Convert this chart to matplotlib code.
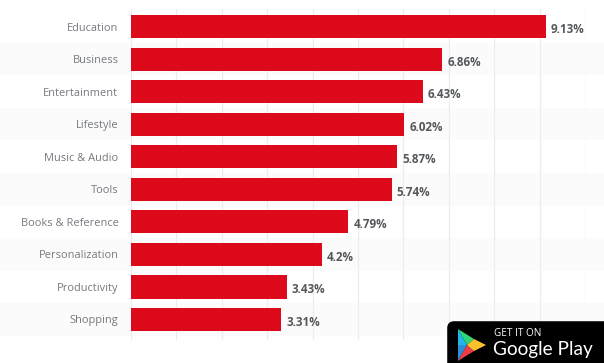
import matplotlib
matplotlib.use("Agg")
import matplotlib.pyplot as plt
from matplotlib.patches import FancyBboxPatch, Polygon
from matplotlib.transforms import offset_copy

categories = ["Education", "Business", "Entertainment", "Lifestyle", "Music & Audio",
              "Tools", "Books & Reference", "Personalization", "Productivity", "Shopping"]
shares = [9.13, 6.86, 6.43, 6.02, 5.87, 5.74, 4.79, 4.2, 3.43, 3.31]
share_labels = ["9.13%", "6.86%", "6.43%", "6.02%", "5.87%", "5.74%", "4.79%", "4.2%", "3.43%", "3.31%"]
x_gridlines = list(range(0, 11))

W, H = 604, 363
plt.rcParams["font.family"] = ["Open Sans", "DejaVu Sans"]
fig = plt.figure(figsize=(W / 100, H / 100), dpi=100, facecolor="white")

# Plot area in pixel terms: x 131..585, y 9..340
ax = fig.add_axes([131 / W, 1 - 340 / H, 454 / W, 331 / H])
ax.set_xlim(0, 10)
ax.set_ylim(9.63, -0.54)
ax.set_facecolor("none")
for s in ax.spines.values():
    s.set_visible(False)

# Alternating row bands run across the full figure width
for i in range(1, len(categories), 2):
    ax.axhspan(i - 0.5, i + 0.5, xmin=-131 / 454, xmax=473 / 454,
               color="#fbfbfb", lw=0, zorder=0, clip_on=False)

for g in x_gridlines:
    ax.axvline(g, color="#ececec", lw=0.9, zorder=1)

ax.barh(range(len(categories)), shares, height=0.71, color="#dc0a1b", zorder=2)

ax.set_yticks(range(len(categories)))
ax.set_yticklabels(categories, fontsize=7.9, color="#75797e")
ax.tick_params(axis="y", length=0, pad=9)
ax.tick_params(axis="x", length=0, labelbottom=False)
down = offset_copy(ax.get_yaxis_transform(), fig=fig, x=0, y=-1.2, units="dots")
for lab in ax.get_yticklabels():
    lab.set_verticalalignment("center_baseline")

for i, (v, lab) in enumerate(zip(shares, share_labels)):
    ax.annotate(lab, (v, i), xytext=(3.6, -1.0), textcoords="offset points", va="center_baseline",
                ha="left", fontsize=8.4, fontweight="bold", color="#55585b", zorder=3)

# Store badge, drawn in figure pixels with y pointing down
badge = fig.add_axes([0, 0, 1, 1], facecolor="none")
badge.set_xlim(0, W)
badge.set_ylim(H, 0)
badge.axis("off")
badge.add_patch(FancyBboxPatch((450, 324), 160, 50, boxstyle="round,pad=0,rounding_size=4",
                               fc="#000000", ec="#000000", lw=4, clip_on=True))
badge.add_patch(Polygon([[458, 329], [458, 345], [467, 345]], fc="#22b6e8", lw=0))
badge.add_patch(Polygon([[458, 329], [474, 339], [467, 345]], fc="#2fd37a", lw=0))
badge.add_patch(Polygon([[458, 361], [458, 345], [467, 345]], fc="#2a8fd8", lw=0))
badge.add_patch(Polygon([[458, 361], [474, 351], [467, 345]], fc="#ef3b46", lw=0))
badge.add_patch(Polygon([[474, 339], [486, 345], [474, 351], [467, 345]], fc="#fbc02d", lw=0))
badge.text(494, 333, "GET IT ON", color="white", fontsize=7.2, va="center", ha="left")
badge.text(493, 350, "Google Play", color="white", fontsize=13.7, va="center", ha="left",
           family=["Lato", "DejaVu Sans"])

fig.savefig("out.png", dpi=100, facecolor="white")
